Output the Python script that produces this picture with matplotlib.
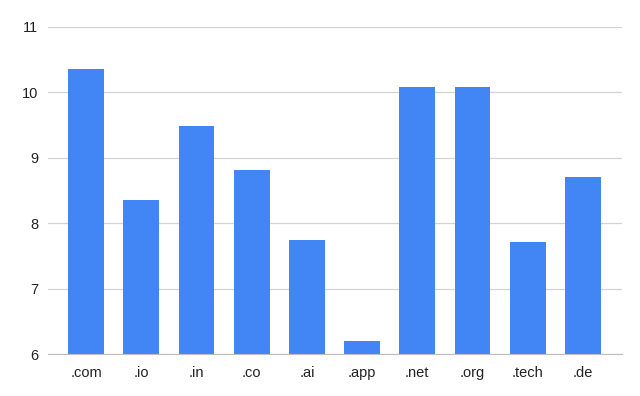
import matplotlib.pyplot as plt

plt.rcParams["font.family"] = ["Liberation Sans", "DejaVu Sans"]

# ===== DATA =====
domains = [".com", ".io", ".in", ".co", ".ai", ".app", ".net", ".org", ".tech", ".de"]
values = [10.36, 8.36, 9.48, 8.82, 7.74, 6.20, 10.09, 10.09, 7.71, 8.71]
y_ticks = [6, 7, 8, 9, 10, 11]

BAR_COLOR = "#4285F4"
TEXT_COLOR = "#222222"
GRID_COLOR = "#d3d3d3"

fig = plt.figure(figsize=(6.4, 3.96), dpi=100)
ax = fig.add_axes([0.075, 0.105, 0.897, 0.827])

x = list(range(len(domains)))
ax.bar(x, [v - 6 for v in values], bottom=6, width=0.65, color=BAR_COLOR, zorder=3)

ax.set_ylim(6, 11)
ax.set_xlim(-0.69, 9.71)
ax.set_yticks(y_ticks)
ax.set_yticklabels([str(t) for t in y_ticks])
ax.set_xticks(x)
ax.set_xticklabels(domains)

ax.grid(axis="y", color=GRID_COLOR, linewidth=0.9, zorder=0)
for side in ["top", "right", "left"]:
    ax.spines[side].set_visible(False)
ax.spines["bottom"].set_color("#bdbdbd")
ax.spines["bottom"].set_zorder(4)

ax.tick_params(axis="both", length=0, labelsize=10.5, colors=TEXT_COLOR)
ax.tick_params(axis="y", pad=7)
ax.tick_params(axis="x", pad=8)

fig.savefig("out.png", dpi=100)
